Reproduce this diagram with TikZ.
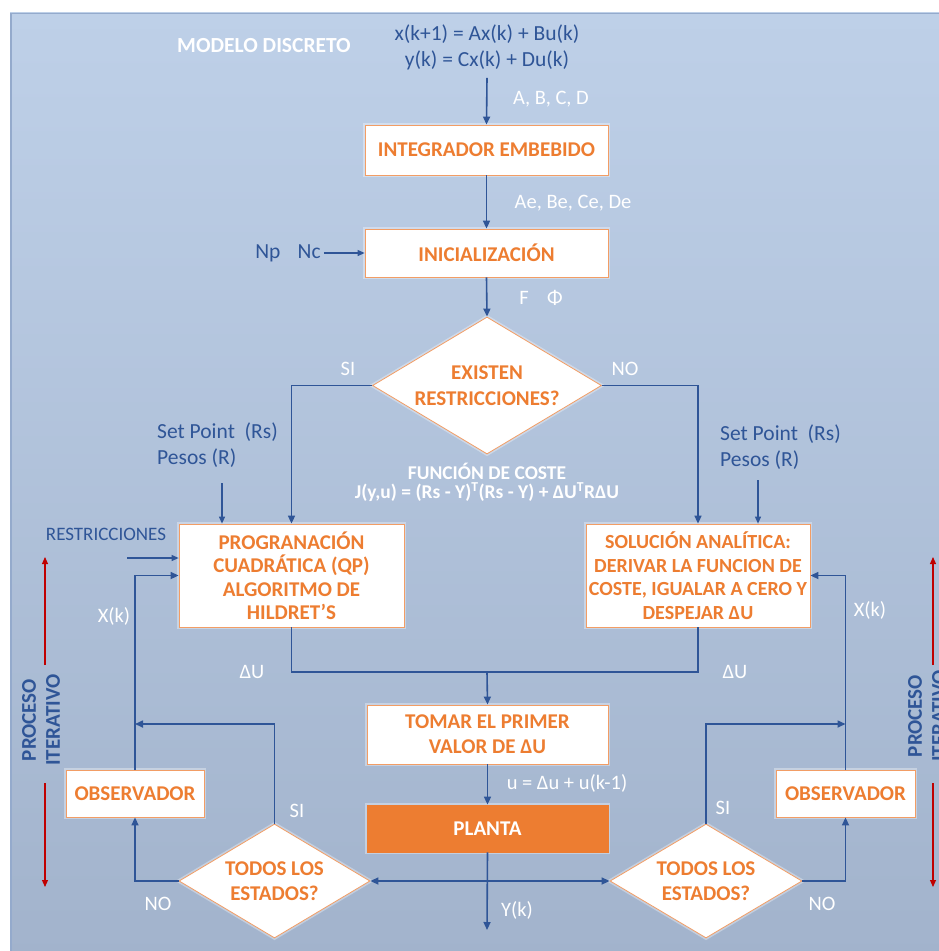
\documentclass[tikz,border=0pt]{standalone}
\usepackage{fontspec}
\setmainfont{Carlito}
\usetikzlibrary{arrows.meta,shapes.geometric,calc}
\definecolor{lblue}{RGB}{47,85,151}
\definecolor{orng}{RGB}{237,125,49}
\definecolor{dred}{RGB}{192,0,0}
\definecolor{bgtop}{RGB}{190,208,232}
\definecolor{bgbot}{RGB}{162,179,204}
\definecolor{bgedge}{RGB}{148,170,204}
\begin{document}
\begin{tikzpicture}[x=1pt,y=-1pt,
  box/.style={draw=orng!75, line width=0.8pt, fill=white, text=orng,
    font=\fontsize{21}{23.5}\selectfont\bfseries, align=center, inner sep=0pt,
    preaction={draw=white, draw opacity=0.35, line width=4pt}},
  dia/.style={box, diamond, aspect=1.67},
  arr/.style={draw=lblue, line width=1.6pt, -{Triangle[length=8pt,width=7pt]}},
  tarr/.style={draw=lblue, line width=1.1pt, -{Triangle[length=7pt,width=6pt]}},
  conn/.style={draw=lblue, line width=1.6pt},
  wlab/.style={text=white, font=\fontsize{20.5}{24}\selectfont, inner sep=0pt},
  blab/.style={text=lblue, font=\fontsize{21.5}{26}\selectfont, inner sep=0pt, align=left},
  redarr/.style={draw=dred, line width=1.1pt, -{Triangle[length=7pt,width=6pt]}},
]
\useasboundingbox (0,0) rectangle (939,951);
\clip (0,0) rectangle (939,951);
\fill[white] (0,0) rectangle (939,951);
\shade[top color=bgtop, bottom color=bgbot] (10,12) rectangle (945,960);
\draw[bgedge, line width=1.3pt] (11,960) -- (11,13.5) -- (945,13.5);

% top
\node[wlab, font=\fontsize{21.5}{26}\selectfont\bfseries] (md) at (264,46) {MODELO DISCRETO};
\node[blab, align=center, inner xsep=2pt, inner ysep=8pt] (eq) at (487,47) {x(k+1) = Ax(k) + Bu(k)\\y(k) = Cx(k) + Du(k)};
\node[box, minimum width=243, minimum height=50] (integ) at (486.5,150) {INTEGRADOR EMBEBIDO};
\node[wlab] (abcd) at (551,99) {A, B, C, D};
\node[wlab] (aebe) at (573,203) {Ae, Be, Ce, De};
\node[box, minimum width=243, minimum height=48] (init) at (486.5,253) {INICIALIZACIÓN};
\node[blab, inner sep=3pt] (np) at (288,253) {Np\hspace{0.8em}Nc};
\node[wlab] (fphi) at (541,298) {F\hspace{0.9em}Φ};

% decision
\node[dia, minimum width=229, minimum height=137] (exist) at (487,385.5) {EXISTEN\\[2pt]RESTRICCIONES?};
\node[wlab] (si1) at (348,369) {SI};
\node[wlab] (no1) at (625,369) {NO};
\node[wlab, font=\fontsize{19.5}{20}\selectfont\bfseries] (fc) at (487,471) {FUNCIÓN DE COSTE};
\node[wlab, font=\fontsize{19.5}{20}\selectfont\bfseries] (jf) at (487,492)
  {J(y,u) = (Rs - Y)\textsuperscript{T}(Rs - Y) + ΔU\textsuperscript{T}RΔU};

% left branch
\node[blab, anchor=west] (sp1) at (157,445) {Set Point\ \ (Rs)\\Pesos (R)};
\node[blab, font=\fontsize{19}{22}\selectfont] (restr) at (106,534) {RESTRICCIONES};
\node[box, minimum width=225, minimum height=103] (qp) at (291.5,575.5)
  {PROGRANACIÓN\\CUADRÁTICA (QP)\\ALGORITMO DE\\HILDRET’S};
% right branch
\node[blab, anchor=west] (sp2) at (720,447) {Set Point\ \ (Rs)\\Pesos (R)};
\node[box, font=\fontsize{20}{23.5}\selectfont\bfseries, minimum width=224, minimum height=103] (sol) at (698,575.5)
  {SOLUCIÓN ANALÍTICA:\\DERIVAR LA FUNCION DE\\COSTE, IGUALAR A CERO Y\\DESPEJAR ΔU};

\node[wlab] (xkl) at (114,616) {X(k)};
\node[wlab] (xkr) at (870,610) {X(k)};
\node[wlab] (dul) at (252,672) {ΔU};
\node[wlab] (dur) at (735,672) {ΔU};

% center column
\node[box, minimum width=241, minimum height=59] (tomar) at (487.5,734.5) {TOMAR EL PRIMER\\[1.5pt]VALOR DE ΔU};
\node[wlab] (ueq) at (567,783) {u = Δu + u(k-1)};
\node[box, fill=orng, draw=orng, text=white, minimum width=241, minimum height=47] (planta) at (487.5,828.5) {PLANTA};
\node[wlab] (yk) at (517,910) {Y(k)};

% bottom decisions and observers
\node[dia, minimum width=191, minimum height=114] (dl) at (274.5,881) {TODOS LOS\\[2pt]ESTADOS?};
\node[dia, minimum width=192, minimum height=114] (dr) at (706,881) {TODOS LOS\\[2pt]ESTADOS?};
\node[box, minimum width=138, minimum height=47] (obsl) at (135,793.5) {OBSERVADOR};
\node[box, minimum width=139, minimum height=47] (obsr) at (845.5,793.5) {OBSERVADOR};
\node[wlab] (nol) at (158,904) {NO};
\node[wlab] (sil) at (297,811) {SI};
\node[wlab] (sir) at (723,808) {SI};
\node[wlab] (nor) at (822,904) {NO};

% iterative process labels
\node[blab, rotate=90, align=center, font=\fontsize{21}{24}\selectfont\bfseries] (pil) at (41,720) {PROCESO\\ITERATIVO};
\node[blab, rotate=90, align=center, font=\fontsize{21}{24}\selectfont\bfseries] (pir) at (927,716) {PROCESO\\ITERATIVO};

% coordinates
\coordinate (spa1) at (222,483);
\coordinate (spa2) at (758,480);
\coordinate (rsa) at (127,558);
\coordinate (m) at (487,672);
\coordinate (ykend) at (487,930);
\coordinate (j) at (487,881);
\coordinate (sjl) at (135,724);
\coordinate (sjr) at (845.5,724);
\coordinate (rl1) at (45,665);
\coordinate (rl2) at (45,557);
\coordinate (rl3) at (45,783);
\coordinate (rl4) at (45,887);
\coordinate (rr1) at (933,665);
\coordinate (rr2) at (933,557);
\coordinate (rr3) at (933,783);
\coordinate (rr4) at (933,887);

% connectors
\draw[arr] (eq.south) -- (integ.north);
\draw[arr] (integ.south) -- (init.north);
\draw[tarr] (np.east) -- (init.west);
\draw[arr] (init.south) -- (exist.north);
\draw[arr] (exist.west) -| (qp.north);
\draw[arr] (exist.east) -| (sol.north);
\draw[tarr] (spa1) -- (spa1 |- qp.north);
\draw[tarr] (spa2) -- (spa2 |- sol.north);
\draw[tarr] (rsa) -- (rsa -| qp.west);
\draw[arr] (obsl.north) |- (qp.west);
\draw[arr] (obsr.north) |- (sol.east);
\draw[conn] (qp.south) |- (m) -| (sol.south);
\draw[arr] (m) -- (tomar.north);
\draw[arr] (tomar.south) -- (planta.north);
\draw[arr] (planta.south) -- (ykend);
\draw[arr] (j) -- (dl.east);
\draw[arr] (j) -- (dr.west);
\draw[arr] (dl.west) -| (obsl.south);
\draw[arr] (dr.east) -| (obsr.south);
\draw[arr] (dl.north) |- (sjl);
\draw[arr] (dr.north) |- (sjr);
\draw[redarr] (rl1) -- (rl2);
\draw[redarr] (rl3) -- (rl4);
\draw[redarr] (rr1) -- (rr2);
\draw[redarr] (rr3) -- (rr4);
\end{tikzpicture}
\end{document}
